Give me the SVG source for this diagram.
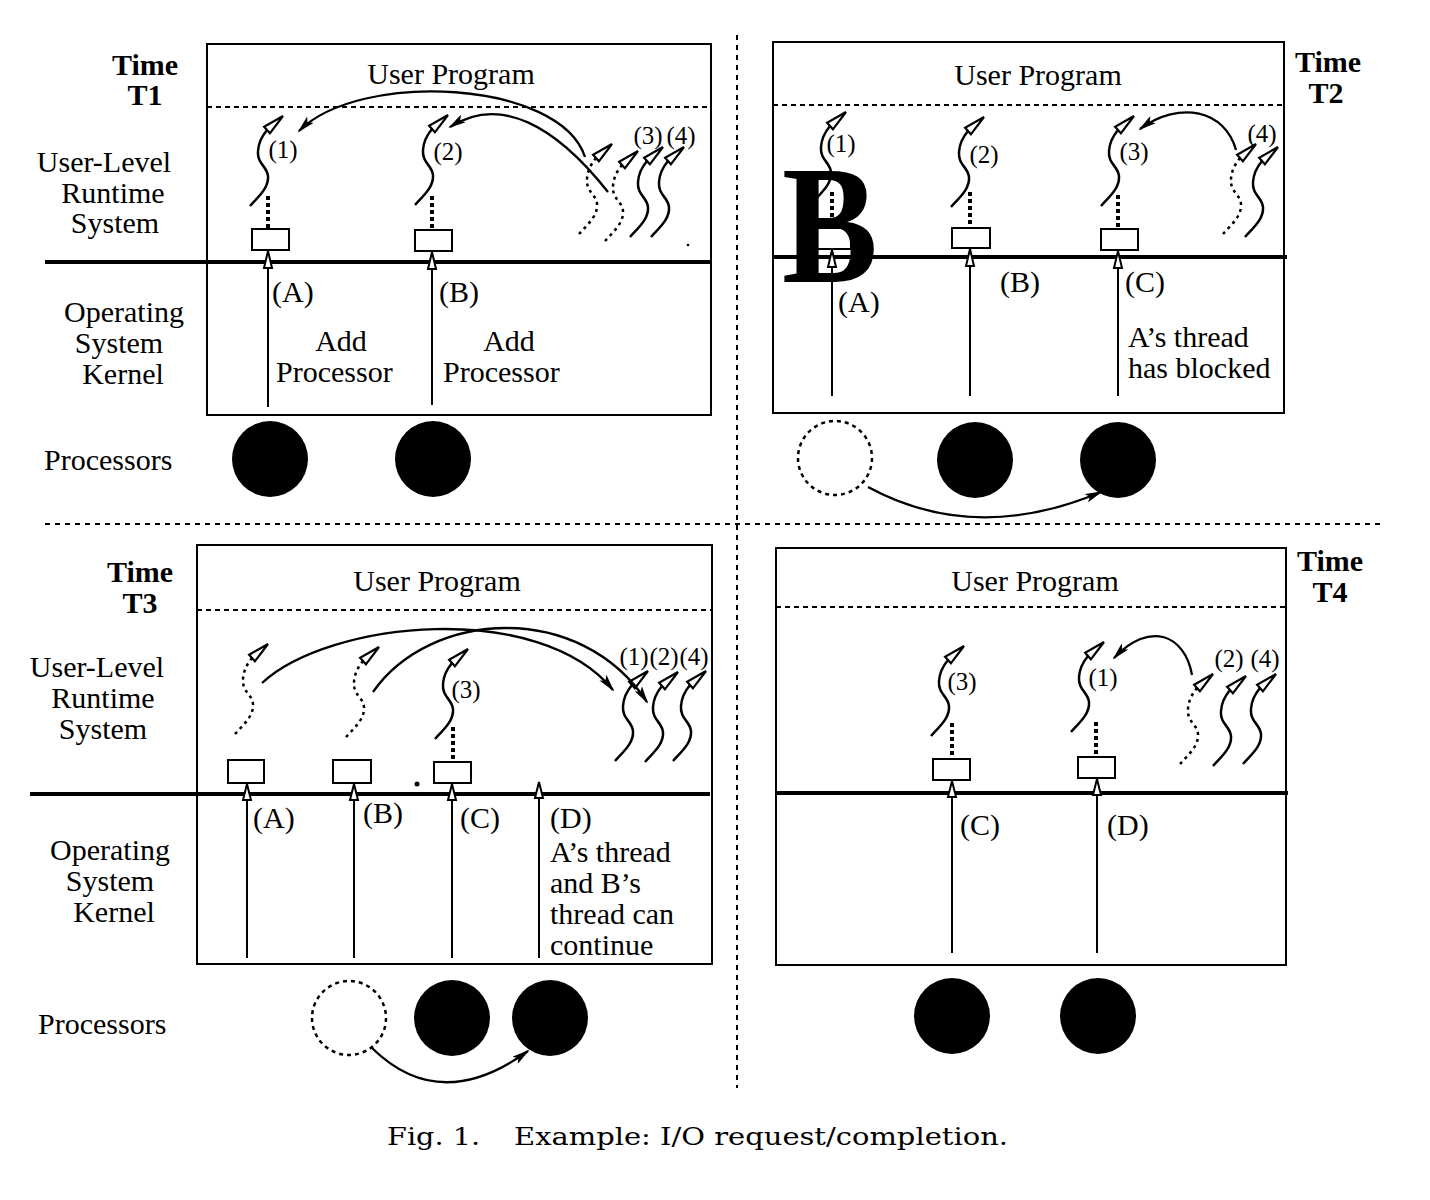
<svg xmlns="http://www.w3.org/2000/svg" xmlns:xlink="http://www.w3.org/1999/xlink" width="1430" height="1200" viewBox="0 0 1430 1200">
<style>
.bg{fill:#fff}
.frame{fill:none;stroke:#000;stroke-width:2}
.dash{stroke:#000;stroke-width:2;stroke-dasharray:5 4;fill:none}
.sep{stroke:#000;stroke-width:2;stroke-dasharray:5 5;fill:none}
.thick{stroke:#000;stroke-width:4}
.dots{stroke:#000;stroke-width:4;stroke-dasharray:4 3}
.kbox{fill:#fff;stroke:#000;stroke-width:2}
.kline{stroke:#000;stroke-width:2}
.khead{fill:#fff;stroke:#000;stroke-width:2}
.t{font-family:"Liberation Serif","Times New Roman",serif;font-size:30px;fill:#000}
.b{font-weight:bold;font-size:30px}
.s{font-size:25px}
.m{text-anchor:middle}
.cap{font-family:"DejaVu Serif","Liberation Serif",serif;font-size:25px;fill:#000}
.curve{fill:none;stroke:#000;stroke-width:2.3;marker-end:url(#ah)}
.proc{fill:#000}
.procd{fill:none;stroke:#000;stroke-width:2.5;stroke-dasharray:4 4}
</style>
<defs>
<marker id="ah" markerUnits="userSpaceOnUse" viewBox="0 0 18 9" markerWidth="18" markerHeight="9" refX="16" refY="4.5" orient="auto">
<path d="M0,0 L18,4.5 L0,9 L4,4.5 z" fill="#000"/>
</marker>
<g id="th">
<path d="M0,0 C8,-9 19,-18 18,-30 C17,-40 7,-42 8,-55 C8.5,-63 12,-70 17,-76" fill="none" stroke="#000" stroke-width="2.5"/>
<polygon points="33,-90 19.9,-72.7 14.1,-79.3" fill="#fff" stroke="#000" stroke-width="2.2"/>
</g>
<g id="thd">
<path d="M0,0 C8,-9 19,-18 18,-30 C17,-40 7,-42 8,-55 C8.5,-63 12,-70 17,-76" fill="none" stroke="#000" stroke-width="2.5" stroke-dasharray="3 4"/>
<polygon points="33,-90 19.9,-72.7 14.1,-79.3" fill="#fff" stroke="#000" stroke-width="2.2"/>
</g>
</defs>
<rect class="bg" x="0" y="0" width="1430" height="1200"/>

<g id="separators">
<line class="sep" x1="737" y1="35" x2="737" y2="1088"/>
<line class="sep" x1="45" y1="524" x2="1385" y2="524"/>
</g>

<!-- ================= T1 ================= -->
<g id="panel-T1">
<g id="T1-frame">
<rect class="frame" x="207" y="44" width="504" height="371"/>
<line class="dash" x1="207" y1="107" x2="711" y2="107"/>
<line class="thick" x1="45" y1="262" x2="711" y2="262"/>
</g>
<g id="T1-labels">
<text class="t b m" x="145" y="75">Time</text>
<text class="t b m" x="145" y="105">T1</text>
<text class="t m" x="104" y="172">User-Level</text>
<text class="t m" x="113" y="203">Runtime</text>
<text class="t m" x="115" y="233">System</text>
<text class="t m" x="124" y="322">Operating</text>
<text class="t m" x="119" y="353">System</text>
<text class="t m" x="123" y="384">Kernel</text>
<text class="t" x="44" y="470">Processors</text>
<text class="t m" x="451" y="84">User Program</text>
</g>
<g id="T1-thread-1"><use xlink:href="#th" x="250" y="206"/><text class="t s m" x="283" y="158">(1)</text></g>
<g id="T1-thread-2"><use xlink:href="#th" x="415" y="205"/><text class="t s m" x="448" y="160">(2)</text></g>
<g id="T1-thread-ready">
<use xlink:href="#thd" x="579" y="234"/>
<use xlink:href="#thd" x="605" y="241"/>
<use xlink:href="#th" x="630" y="237"/>
<use xlink:href="#th" x="651" y="237"/>
<text class="t s m" x="648" y="144">(3)</text>
<text class="t s m" x="681" y="144">(4)</text>
</g>
<g id="T1-vp-A">
<line class="dots" x1="268" y1="196" x2="268" y2="229"/>
<rect class="kbox" x="252" y="229" width="37" height="21"/>
<line class="kline" x1="268" y1="266" x2="268" y2="407"/>
<polygon class="khead" points="268,251 264,268 272,268"/>
<text class="t" x="272" y="302">(A)</text>
<text class="t m" x="341" y="351">Add</text>
<text class="t" x="276" y="382">Processor</text>
</g>
<g id="T1-vp-B">
<line class="dots" x1="432" y1="196" x2="432" y2="230"/>
<rect class="kbox" x="415" y="230" width="37" height="21"/>
<line class="kline" x1="432" y1="267" x2="432" y2="405"/>
<polygon class="khead" points="432,252 428,269 436,269"/>
<text class="t" x="439" y="302">(B)</text>
<text class="t m" x="509" y="351">Add</text>
<text class="t" x="443" y="382">Processor</text>
</g>
<g id="T1-processors">
<circle class="proc" cx="270" cy="459" r="38"/>
<circle class="proc" cx="433" cy="459" r="38"/>
</g>
<circle cx="688" cy="245" r="1.3" fill="#000"/>
</g>

<!-- ================= T2 ================= -->
<g id="panel-T2">
<g id="T2-frame">
<rect class="frame" x="773" y="42" width="511" height="371"/>
<line class="dash" x1="773" y1="105" x2="1284" y2="105"/>
<line class="thick" x1="773" y1="257" x2="1287" y2="257"/>
</g>
<g id="T2-labels">
<text class="t b m" x="1328" y="72">Time</text>
<text class="t b m" x="1326" y="103">T2</text>
<text class="t m" x="1038" y="85">User Program</text>
</g>
<g id="T2-thread-1"><use xlink:href="#th" x="813" y="202"/><text class="t s m" x="841" y="152">(1)</text></g>
<g id="T2-thread-2"><use xlink:href="#th" x="951" y="207"/><text class="t s m" x="984" y="163">(2)</text></g>
<g id="T2-thread-3"><use xlink:href="#th" x="1101" y="206"/><text class="t s m" x="1134" y="160">(3)</text></g>
<g id="T2-thread-ready">
<use xlink:href="#thd" x="1223" y="234"/>
<use xlink:href="#th" x="1245" y="237"/>
<text class="t s m" x="1262" y="142">(4)</text>
</g>
<g id="T2-vp-A">
<line class="dots" x1="832" y1="192" x2="832" y2="228"/>
<rect class="kbox" x="815" y="228" width="36" height="21"/>
<line class="kline" x1="832" y1="265" x2="832" y2="396"/>
<polygon class="khead" points="832,250 828,267 836,267"/>
<text class="t" x="838" y="312">(A)</text>
</g>
<g id="T2-vp-B">
<line class="dots" x1="970" y1="192" x2="970" y2="228"/>
<rect class="kbox" x="952" y="228" width="38" height="20"/>
<line class="kline" x1="970" y1="264" x2="970" y2="396"/>
<polygon class="khead" points="970,249 966,266 974,266"/>
<text class="t" x="1000" y="292">(B)</text>
</g>
<g id="T2-vp-C">
<line class="dots" x1="1118" y1="195" x2="1118" y2="229"/>
<rect class="kbox" x="1101" y="229" width="37" height="21"/>
<line class="kline" x1="1118" y1="266" x2="1118" y2="396"/>
<polygon class="khead" points="1118,251 1114,268 1122,268"/>
<text class="t" x="1125" y="292">(C)</text>
<text class="t" x="1128" y="347">A’s thread</text>
<text class="t" x="1128" y="378">has blocked</text>
</g>
<g id="T2-processors">
<circle class="procd" cx="835" cy="458" r="37"/>
<circle class="proc" cx="975" cy="460" r="38"/>
<circle class="proc" cx="1118" cy="460" r="38"/>
</g>
<text id="T2-big-B" x="0" y="0" transform="translate(782,282) scale(0.85,1)" style="font-family:'Liberation Serif','Times New Roman',serif;font-weight:bold;font-size:169px">B</text>
</g>

<!-- ================= T3 ================= -->
<g id="panel-T3">
<g id="T3-frame">
<rect class="frame" x="197" y="545" width="515" height="419"/>
<line class="dash" x1="197" y1="610" x2="712" y2="610"/>
<line class="thick" x1="30" y1="794" x2="710" y2="794"/>
</g>
<g id="T3-labels">
<text class="t b m" x="140" y="582">Time</text>
<text class="t b m" x="140" y="613">T3</text>
<text class="t m" x="97" y="677">User-Level</text>
<text class="t m" x="103" y="708">Runtime</text>
<text class="t m" x="103" y="739">System</text>
<text class="t m" x="110" y="860">Operating</text>
<text class="t m" x="110" y="891">System</text>
<text class="t m" x="114" y="922">Kernel</text>
<text class="t" x="38" y="1034">Processors</text>
<text class="t m" x="437" y="591">User Program</text>
</g>
<g id="T3-thread-A"><use xlink:href="#thd" x="235" y="734"/></g>
<g id="T3-thread-B"><use xlink:href="#thd" x="346" y="737"/></g>
<g id="T3-thread-3"><use xlink:href="#th" x="435" y="739"/><text class="t s m" x="466" y="698">(3)</text></g>
<g id="T3-thread-ready">
<use xlink:href="#th" x="615" y="761"/>
<use xlink:href="#th" x="645" y="762"/>
<use xlink:href="#th" x="673" y="761"/>
<text class="t s m" x="634" y="665">(1)</text>
<text class="t s m" x="664" y="665">(2)</text>
<text class="t s m" x="694" y="665">(4)</text>
</g>
<g id="T3-vp-A">
<rect class="kbox" x="228" y="760" width="36" height="23"/>
<line class="kline" x1="247" y1="798" x2="247" y2="958"/>
<polygon class="khead" points="247,784 243,800 251,800"/>
<text class="t" x="253" y="828">(A)</text>
</g>
<g id="T3-vp-B">
<rect class="kbox" x="333" y="760" width="38" height="23"/>
<line class="kline" x1="354" y1="798" x2="354" y2="958"/>
<polygon class="khead" points="354,784 350,800 358,800"/>
<text class="t" x="363" y="823">(B)</text>
</g>
<g id="T3-vp-C">
<line class="dots" x1="453" y1="727" x2="453" y2="762"/>
<rect class="kbox" x="434" y="762" width="37" height="21"/>
<line class="kline" x1="452" y1="798" x2="452" y2="958"/>
<polygon class="khead" points="452,784 448,800 456,800"/>
<text class="t" x="460" y="828">(C)</text>
</g>
<g id="T3-vp-D">
<line class="kline" x1="539" y1="796" x2="539" y2="958"/>
<polygon class="khead" points="539,782 535,798 543,798"/>
<text class="t" x="550" y="828">(D)</text>
<text class="t" x="550" y="862">A’s thread</text>
<text class="t" x="550" y="893">and B’s</text>
<text class="t" x="550" y="924">thread can</text>
<text class="t" x="550" y="955">continue</text>
</g>
<g id="T3-processors">
<circle class="procd" cx="349" cy="1018" r="37"/>
<circle class="proc" cx="452" cy="1018" r="38"/>
<circle class="proc" cx="550" cy="1018" r="38"/>
</g>
<circle cx="417" cy="784" r="2.5" fill="#000"/>
</g>

<!-- ================= T4 ================= -->
<g id="panel-T4">
<g id="T4-frame">
<rect class="frame" x="776" y="548" width="510" height="417"/>
<line class="dash" x1="776" y1="607" x2="1286" y2="607"/>
<line class="thick" x1="776" y1="793" x2="1288" y2="793"/>
</g>
<g id="T4-labels">
<text class="t b m" x="1330" y="571">Time</text>
<text class="t b m" x="1330" y="602">T4</text>
<text class="t m" x="1035" y="591">User Program</text>
</g>
<g id="T4-thread-3"><use xlink:href="#th" x="931" y="736"/><text class="t s m" x="962" y="690">(3)</text></g>
<g id="T4-thread-1"><use xlink:href="#th" x="1071" y="732"/><text class="t s m" x="1103" y="686">(1)</text></g>
<g id="T4-thread-ready">
<use xlink:href="#thd" x="1180" y="764"/>
<use xlink:href="#th" x="1213" y="766"/>
<use xlink:href="#th" x="1243" y="764"/>
<text class="t s m" x="1229" y="667">(2)</text>
<text class="t s m" x="1265" y="667">(4)</text>
</g>
<g id="T4-vp-C">
<line class="dots" x1="952" y1="723" x2="952" y2="759"/>
<rect class="kbox" x="933" y="759" width="37" height="21"/>
<line class="kline" x1="952" y1="796" x2="952" y2="953"/>
<polygon class="khead" points="952,781 948,797 956,797"/>
<text class="t" x="960" y="835">(C)</text>
</g>
<g id="T4-vp-D">
<line class="dots" x1="1096" y1="722" x2="1096" y2="757"/>
<rect class="kbox" x="1078" y="757" width="37" height="21"/>
<line class="kline" x1="1097" y1="794" x2="1097" y2="953"/>
<polygon class="khead" points="1097,779 1093,795 1101,795"/>
<text class="t" x="1107" y="835">(D)</text>
</g>
<g id="T4-processors">
<circle class="proc" cx="952" cy="1016" r="38"/>
<circle class="proc" cx="1098" cy="1016" r="38"/>
</g>
</g>

<g id="connectors">
<path class="curve" d="M585,157 C560,80 360,70 299,131"/>
<path class="curve" d="M608,192 C555,125 500,95 450,127"/>
<path class="curve" d="M1236,150 C1225,110 1180,100 1140,129"/>
<path class="curve" d="M868,487 Q975,545 1101,492"/>
<path class="curve" d="M262,683 C330,620 540,600 613,690"/>
<path class="curve" d="M373,692 C430,610 580,600 647,702"/>
<path class="curve" d="M372,1048 Q440,1115 528,1051"/>
<path class="curve" d="M1192,675 C1185,635 1150,620 1114,658"/>
</g>

<g id="caption">
<text class="cap" x="387" y="1145" textLength="93" lengthAdjust="spacingAndGlyphs">Fig. 1.</text>
<text class="cap" x="514" y="1145" textLength="494" lengthAdjust="spacingAndGlyphs">Example: I/O request/completion.</text>
</g>
</svg>
